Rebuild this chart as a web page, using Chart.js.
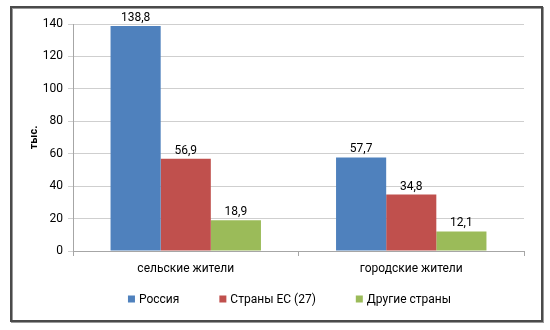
<!DOCTYPE html>
<html>
<head>
<meta charset="utf-8">
<script src="https://cdn.jsdelivr.net/npm/chart.js"></script>
<style>
  html, body { margin: 0; padding: 0; background: #fff; }
  #wrap { width: 550px; height: 330px; position: relative; }
</style>
</head>
<body>
<div id="wrap"><canvas id="population"></canvas></div>
<script>
// Categories and series (thousands of people)
const categories = ['сельские жители', 'городские жители'];
const russia = [138.8, 57.7];
const euCountries = [56.9, 34.8];
const otherCountries = [18.9, 12.1];
const seriesNames = ['Россия', 'Страны ЕС (27)', 'Другие страны'];
const yTicks = [0, 20, 40, 60, 80, 100, 120, 140];

const FONT = 'Roboto, "Open Sans", "DejaVu Sans", sans-serif';
const colors = ['#4f81bd', '#c0504d', '#9bbb59'];

const fmt = v => v.toFixed(1).replace('.', ',');

// White background plus the framed border around the whole chart
const framePlugin = {
  id: 'frame',
  beforeDraw(chart) {
    const c = chart.ctx;
    c.save();
    c.fillStyle = '#fff';
    c.fillRect(0, 0, chart.width, chart.height);
    c.strokeStyle = '#9a9a9a';
    c.lineWidth = 2;
    c.strokeRect(12, 8, 531, 314);
    c.strokeStyle = '#4a4a4a';
    c.lineWidth = 2;
    c.strokeRect(11, 7, 531, 314);
    c.restore();
  }
};

// Value labels above every bar
const valueLabels = {
  id: 'valueLabels',
  afterDatasetsDraw(chart) {
    const c = chart.ctx;
    c.save();
    c.font = '12px ' + FONT;
    c.fillStyle = '#000';
    c.textAlign = 'center';
    c.textBaseline = 'bottom';
    chart.data.datasets.forEach((ds, i) => {
      chart.getDatasetMeta(i).data.forEach((bar, j) => {
        c.fillText(fmt(ds.data[j]), bar.x, bar.y - 2);
      });
    });
    c.restore();
  }
};

// Legend row at the bottom, built from the datasets
const bottomLegend = {
  id: 'bottomLegend',
  afterDraw(chart) {
    const c = chart.ctx;
    const gap = 40, box = 7, boxGap = 4, y = 299;
    c.save();
    c.font = '12px ' + FONT;
    const items = chart.data.datasets.map(ds => ({
      text: ds.label, color: ds.backgroundColor,
      w: box + boxGap + c.measureText(ds.label).width
    }));
    const total = items.reduce((s, it) => s + it.w, 0) + gap * (items.length - 1);
    let x = 289.5 - total / 2;
    c.textBaseline = 'middle';
    c.textAlign = 'left';
    items.forEach(it => {
      c.fillStyle = it.color;
      c.fillRect(x, y - box / 2, box, box);
      c.fillStyle = '#000';
      c.fillText(it.text, x + box + boxGap, y + 0.5);
      x += it.w + gap;
    });
    c.restore();
  }
};

const seriesValues = [russia, euCountries, otherCountries];

new Chart(document.getElementById('population'), {
  type: 'bar',
  data: {
    labels: categories,
    datasets: seriesNames.map((name, i) => ({
      label: name,
      data: seriesValues[i],
      backgroundColor: colors[i],
      borderWidth: 0,
      barPercentage: 1,
      categoryPercentage: 0.667
    }))
  },
  options: {
    responsive: true,
    maintainAspectRatio: false,
    animation: false,
    layout: { padding: { left: 24, right: 26, top: 24, bottom: 53 } },
    plugins: {
      legend: { display: false },
      tooltip: { enabled: false }
    },
    scales: {
      x: {
        afterFit(scale) { scale.height = 26; },
        grid: {
          offset: true,
          drawOnChartArea: false,
          color: '#a6a6a6',
          tickLength: 5
        },
        border: { color: '#a6a6a6' },
        ticks: { font: { family: FONT, size: 12 }, color: '#000', padding: 6 }
      },
      y: {
        min: 0,
        max: 140,
        afterFit(scale) { scale.width = 49; },
        afterBuildTicks(scale) { scale.ticks = yTicks.map(v => ({ value: v })); },
        grid: { color: '#cfcfcf', tickLength: 5 },
        border: { color: '#a6a6a6' },
        ticks: { font: { family: FONT, size: 12 }, color: '#000', padding: 5 },
        title: {
          display: true,
          text: 'тыс.',
          font: { family: FONT, size: 11, weight: 'bold' },
          color: '#000',
          padding: { top: 4, bottom: 0 }
        }
      }
    }
  },
  plugins: [framePlugin, valueLabels, bottomLegend]
});
</script>
</body>
</html>
